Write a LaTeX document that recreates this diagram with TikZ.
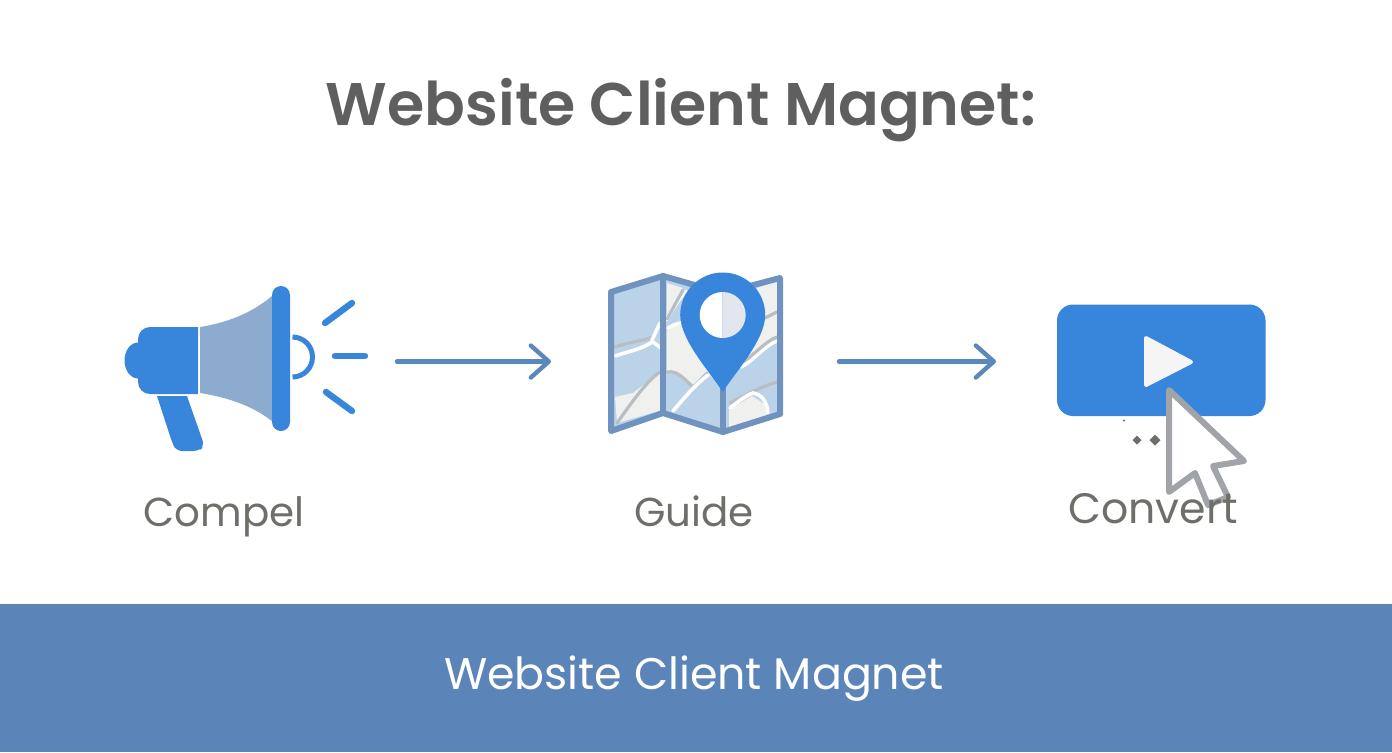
\documentclass[tikz,border=0pt]{standalone}
\usepackage{fontspec}
\setmainfont{Poppins}
\newfontfamily\titlefont{Poppins SemiBold}
\usetikzlibrary{arrows.meta}
\definecolor{iconblue}{HTML}{3886DC}
\definecolor{conegray}{HTML}{8DABCF}
\definecolor{linkblue}{HTML}{5B88BB}
\definecolor{mapframe}{HTML}{7092BF}
\definecolor{mapblue}{HTML}{BAD3E9}
\definecolor{mappale}{HTML}{F0F0EE}
\definecolor{roadgray}{HTML}{B8BEC2}
\definecolor{banner}{HTML}{5B84B8}
\definecolor{titlegray}{HTML}{5F5F5F}
\definecolor{labelgray}{HTML}{6F6F6A}
\definecolor{cursorgray}{HTML}{A0A3A8}
\definecolor{holeshade}{HTML}{E3E6EE}
\tikzset{
  titletext/.style={font=\titlefont\fontsize{30.1}{36}\selectfont,text=titlegray,inner sep=0pt,anchor=base},
  labeltext/.style={font=\fontsize{20.2}{24}\selectfont,text=labelgray,inner sep=0pt,anchor=base},
  bannertext/.style={font=\fontsize{22.15}{28}\selectfont,text=white,inner sep=0pt,anchor=base},
  iconslot/.style={inner sep=0pt,outer sep=0pt,minimum height=10pt},
  link/.style={draw=linkblue,line width=2.2pt,line cap=round,line join=round,-{Straight Barb[length=9pt,width=16pt,line width=2.2pt,round]}},
  ray/.style={draw=iconblue,line width=3.2pt,line cap=round},
  road/.style={draw=white,line width=1.8pt,line cap=round},
  groad/.style={draw=roadgray,line width=1.6pt,line cap=round},
  frameline/.style={draw=mapframe,line width=3pt,line join=round,line cap=round}
}
\begin{document}
\begin{tikzpicture}[x=0.5pt,y=-0.5pt]
\useasboundingbox (0,0) rectangle (1392,752);
\fill[white] (0,0) rectangle (1392,752);
\fill[banner] (0,604) rectangle (1392,752);
\node[titletext] (title) at (681,125) {Website Client Magnet:};
\node[bannertext] (bannerlabel) at (694,689) {Website Client Magnet};
\node[labeltext] (compel) at (224,526) {Compel};
\node[labeltext] (guide) at (694,526) {Guide};

% megaphone
\fill[iconblue] (198,394) -- (198,327) [rounded corners=6pt] -- (138,327) -- (138,394) [sharp corners] -- cycle;
\fill[iconblue] (138,360.5) ellipse [x radius=13.5,y radius=18];
\fill[iconblue] (157,396) -- (187,396) [rounded corners=3pt] -- (204.5,446) -- (199,451) -- (176,451) -- (172,442) [sharp corners] -- cycle;
\fill[conegray] (200,327) .. controls (232,322) and (256,310) .. (273,295) -- (273,422) .. controls (256,408) and (232,398) .. (200,393) -- cycle;
\fill[iconblue,rounded corners=4.5pt] (272,286) rectangle (290,431);
\draw[iconblue,line width=2.5pt] (292.5,337) arc[start angle=-90,end angle=90,radius=20];
\draw[ray] (325,323) -- (352,303);
\draw[ray] (335,356) -- (365,356);
\draw[ray] (326,392) -- (352,411);

% map
\fill[mapblue] (611,292) -- (663,276) -- (723,293) -- (780,278) -- (780,414) -- (723,432) -- (663,413) -- (611,431) -- cycle;
\fill[mappale] (615,397) -- (633,393) -- (660,372) -- (662,410) -- (617,423) -- cycle;
\fill[mappale] (667,283) -- (683,288) -- (667,315) -- cycle;
\fill[mappale] (667,330) -- (675,325) -- (690,320) -- (720,385) -- (707,373) -- (693,387) -- (677,373) -- (667,372) -- cycle;
\fill[mappale] (757,288) -- (777,281) -- (777,337) -- (747,360) -- (740,363) -- cycle;
\fill[mappale] (729,410) -- (752,396) -- (766,405) -- (767,416) -- (729,427) -- cycle;
\draw[groad] (615,347) .. controls (630,342) and (642,341) .. (653,337);
\draw[road] (615,356) .. controls (630,351) and (642,349) .. (652,342);
\draw[road] (652,340) -- (660,323);
\draw[road] (653,342) -- (661,348);
\draw[groad] (617,423) .. controls (628,408) and (645,382) .. (660,372);
\draw[groad] (667,372) .. controls (678,370) and (685,380) .. (693,387) .. controls (698,383) and (702,378) .. (707,373);
\draw[road] (673,411) .. controls (685,397) and (695,385) .. (708,375);
\draw[road] (666,320) .. controls (672,310) and (680,297) .. (686,291);
\draw[groad] (667,319) -- (683,290);
\draw[road] (668,328) .. controls (674,324) and (682,322) .. (690,322);
\draw[road] (741,367) .. controls (752,362) and (765,345) .. (777,341);
\draw[groad] (740,363) .. controls (752,358) and (765,341) .. (777,337);
\draw[groad] (765,318) -- (777,312);
\draw[groad] (730,403) .. controls (745,395) and (760,387) .. (777,382);
\draw[road] (730,408) .. controls (738,402) and (746,395) .. (753,393) .. controls (760,394) and (767,400) .. (768,413);
\draw[frameline] (663,276) -- (663,413);
\draw[frameline] (723,385) -- (723,432);
\draw[frameline] (611,292) -- (663,276) -- (723,293) -- (780,278) -- (780,414) -- (723,432) -- (663,413) -- (611,431) -- cycle;
% pin
\fill[iconblue] (722.7,392) .. controls (710,372) and (680.2,340) .. (680.2,315) arc[start angle=180,end angle=360,radius=42.5] .. controls (765.2,340) and (735.4,372) .. (722.7,392) -- cycle;
\fill[white] (722.7,292) arc[start angle=270,end angle=90,radius=23] -- cycle;
\fill[holeshade] (722.7,292) arc[start angle=-90,end angle=90,radius=23] -- cycle;

% player
\fill[iconblue,rounded corners=8pt] (1057,304.5) rectangle (1265.5,416);
\fill[white!96!black,draw=white!96!black,line width=2pt,line join=round] (1146,338) -- (1191,362) -- (1146,385) -- cycle;
\fill[labelgray] (1124,420.5) circle (1.2);
\fill[labelgray] (1137,435.5) -- (1141.5,440) -- (1137,444.5) -- (1132.5,440) -- cycle;
\fill[labelgray] (1155,434.5) -- (1160.5,440) -- (1155,445.5) -- (1149.5,440) -- cycle;
\draw[cursorgray,fill=white,line width=3pt,line join=round] (1169,390) -- (1244,461) -- (1213,466) -- (1228,497) -- (1208,505) -- (1195,473) -- (1169,492) -- cycle;
\node[labeltext,font=\fontsize{21.3}{24}\selectfont] (convert) at (1153,523) {Convert};

% connectors
\node[iconslot,minimum width=136pt] (compelicon) at (261,361.5) {};
\node[iconslot,minimum width=144pt] (guideicon) at (695,361.5) {};
\node[iconslot,minimum width=135pt] (converticon) at (1131,361.5) {};
\draw[link] (compelicon.east) -- (guideicon.west);
\draw[link] (guideicon.east) -- (converticon.west);
\end{tikzpicture}
\end{document}
